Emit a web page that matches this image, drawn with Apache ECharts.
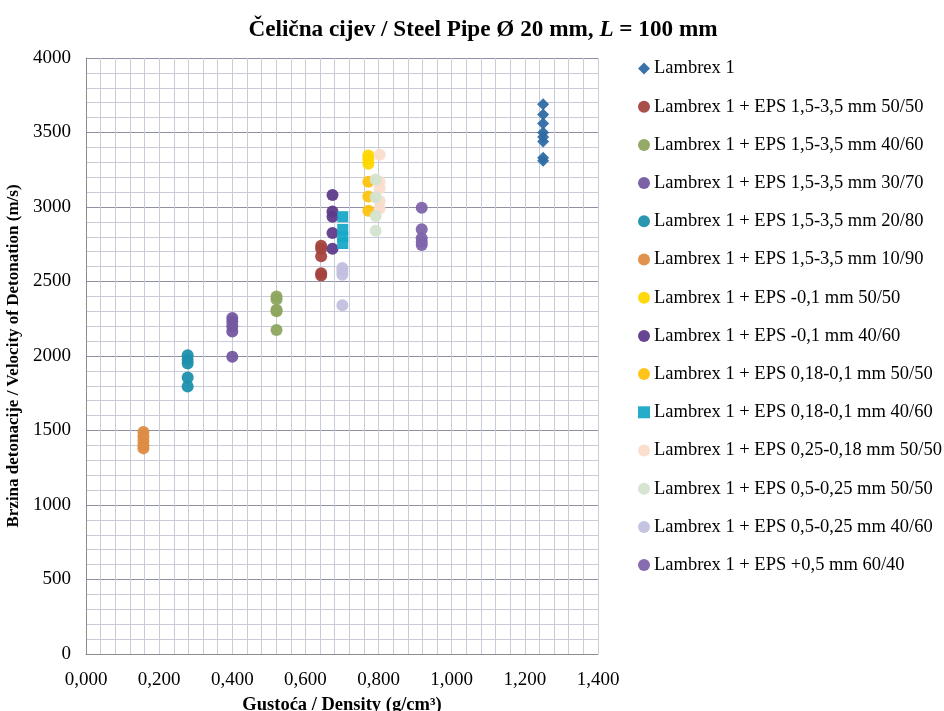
<!DOCTYPE html>
<html><head><meta charset="utf-8">
<script src="https://cdn.jsdelivr.net/npm/echarts@6/dist/echarts.min.js"></script>
<style>html,body{margin:0;padding:0;background:#fff}#c{width:944px;height:711px}</style>
</head><body><div id="c"></div>
<script>
const seriesNames = [
  'Lambrex 1',
  'Lambrex 1 + EPS 1,5-3,5 mm 50/50',
  'Lambrex 1 + EPS 1,5-3,5 mm 40/60',
  'Lambrex 1 + EPS 1,5-3,5 mm 30/70',
  'Lambrex 1 + EPS 1,5-3,5 mm 20/80',
  'Lambrex 1 + EPS 1,5-3,5 mm 10/90',
  'Lambrex 1 + EPS -0,1 mm 50/50',
  'Lambrex 1 + EPS -0,1 mm 40/60',
  'Lambrex 1 + EPS 0,18-0,1 mm 50/50',
  'Lambrex 1 + EPS 0,18-0,1 mm 40/60',
  'Lambrex 1 + EPS 0,25-0,18 mm 50/50',
  'Lambrex 1 + EPS 0,5-0,25 mm 50/50',
  'Lambrex 1 + EPS 0,5-0,25 mm 40/60',
  'Lambrex 1 + EPS +0,5 mm 60/40'
];
const densities = [1.25, 0.643, 0.521, 0.40, 0.278, 0.157, 0.772, 0.674, 0.772, 0.702, 0.803, 0.792, 0.701, 0.918];
const vod_lambrex = [3690, 3620, 3560, 3500, 3470, 3440, 3330, 3310];
const vod_15_35_50_50 = [2740, 2720, 2670, 2555, 2540];
const vod_15_35_40_60 = [2400, 2380, 2310, 2300, 2175];
const vod_15_35_30_70 = [2255, 2230, 2200, 2165, 1995];
const vod_15_35_20_80 = [2005, 1975, 1950, 1855, 1795];
const vod_15_35_10_90 = [1490, 1460, 1430, 1400, 1380];
const vod_01_50_50 = [3345, 3320, 3290];
const vod_01_40_60 = [3080, 2970, 2935, 2825, 2720];
const vod_018_01_50_50 = [3170, 3070, 2975];
const vod_018_01_40_60 = [2935, 2850, 2800, 2755];
const vod_025_018_50_50 = [3350, 3170, 3125, 3040, 2990];
const vod_05_025_50_50 = [3185, 3065, 2940, 2840];
const vod_05_025_40_60 = [2590, 2570, 2545, 2340];
const vod_05_60_40 = [2995, 2850, 2790, 2765, 2745];
const vodSets = [vod_lambrex, vod_15_35_50_50, vod_15_35_40_60, vod_15_35_30_70, vod_15_35_20_80, vod_15_35_10_90,
  vod_01_50_50, vod_01_40_60, vod_018_01_50_50, vod_018_01_40_60, vod_025_018_50_50, vod_05_025_50_50, vod_05_025_40_60, vod_05_60_40];
const colors = ['#2F6CA4', '#A5443F', '#8EA660', '#7458A0', '#1E90AE', '#DE8C44', '#FFD700', '#5F3B8A',
  '#FFC20E', '#17A9C8', '#FADCCB', '#D3E4D0', '#C2C0E0', '#7F65AC'];
const symbols = ['diamond', 'circle', 'circle', 'circle', 'circle', 'circle', 'circle', 'circle', 'circle', 'rect', 'circle', 'circle', 'circle', 'circle'];
const xTickStep = 0.2, yTickStep = 500;

const FONT = 'Liberation Serif';
const chart = echarts.init(document.getElementById('c'));
chart.setOption({
  animation: false,
  textStyle: {fontFamily: FONT},
  title: {
    text: '{b|Čelična cijev / Steel Pipe Ø 20 mm, }{i|L}{b| = 100 mm}',
    left: 478, top: 14, textAlign: 'center',
    textStyle: {
      rich: {
        b: {fontFamily: FONT, fontWeight: 'bold', fontSize: 23.2, color: '#000'},
        i: {fontFamily: FONT, fontWeight: 'bold', fontStyle: 'italic', fontSize: 23.2, color: '#000'}
      }
    }
  },
  legend: {
    orient: 'vertical', left: 633, top: 54,
    itemWidth: 12, itemHeight: 12, itemGap: 19.2,
    textStyle: {fontFamily: FONT, fontSize: 18.5, color: '#000', lineHeight: 18.5, padding: [0, 0, 0, -1]},
    data: seriesNames.map((n, i) => ({name: n, icon: symbols[i]}))
  },
  grid: {left: 86, right: 346, top: 58, bottom: 57, containLabel: false, outerBoundsMode: 'none'},
  xAxis: {
    type: 'value', min: 0, max: 1.4, interval: xTickStep,
    name: 'Gustoća / Density (g/cm³)', nameLocation: 'middle', nameGap: 42,
    nameTextStyle: {fontFamily: FONT, fontWeight: 'bold', fontSize: 18.5, color: '#000'},
    axisLine: {show: true, lineStyle: {color: '#8C8C8C'}},
    axisTick: {show: false},
    axisLabel: {fontFamily: FONT, fontSize: 19, color: '#000', margin: 17,
      formatter: v => v.toFixed(3).replace('.', ',')},
    splitLine: {show: true, lineStyle: {color: '#C9CCD8', width: 1}},
    minorTick: {show: false, splitNumber: 5},
    minorSplitLine: {show: true, lineStyle: {color: '#C9CCD8', width: 1}}
  },
  yAxis: {
    type: 'value', min: 0, max: 4000, interval: yTickStep,
    name: 'Brzina detonacije / Velocity of Detonation (m/s)', nameLocation: 'middle', nameGap: 57,
    nameTextStyle: {fontFamily: FONT, fontWeight: 'bold', fontSize: 17, color: '#000'},
    axisLine: {show: true, lineStyle: {color: '#8C8C8C'}},
    axisTick: {show: false},
    axisLabel: {fontFamily: FONT, fontSize: 19, color: '#000', margin: 15, formatter: v => String(v)},
    splitLine: {show: true, lineStyle: {color: '#8E91A3', width: 1}},
    minorTick: {show: false, splitNumber: 5},
    minorSplitLine: {show: true, lineStyle: {color: '#C9CCD8', width: 1}}
  },
  series: seriesNames.map((n, i) => ({
    name: n, type: 'scatter',
    symbol: symbols[i], symbolSize: symbols[i] === 'rect' ? 11 : 12,
    itemStyle: {color: colors[i], opacity: 0.95},
    data: vodSets[i].map(v => [densities[i], v])
  }))
});
</script></body></html>
